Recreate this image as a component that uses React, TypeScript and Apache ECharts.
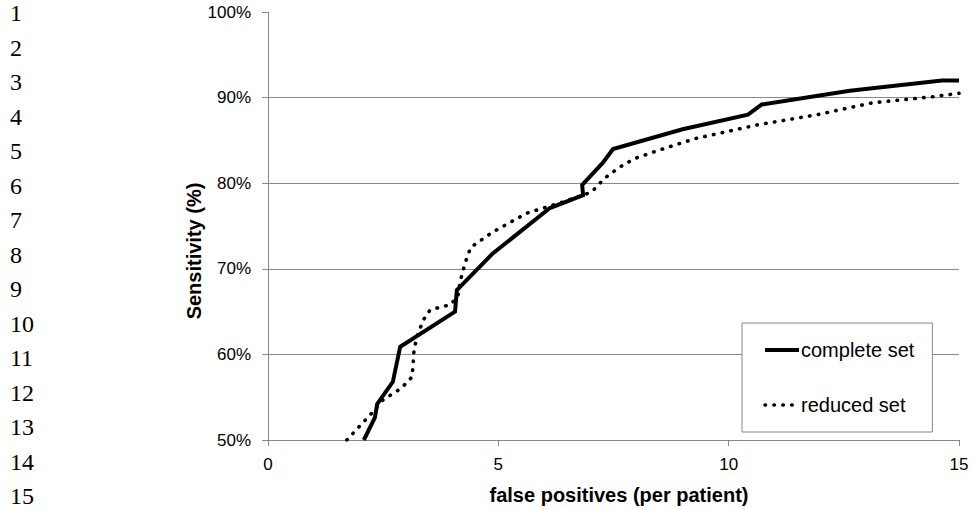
import React, { useEffect, useRef } from "react";
import * as echarts from "echarts";

// ---- data ----
const seriesNames = ["complete set", "reduced set"];

const completeX = [2.08, 2.32, 2.37, 2.71, 2.87, 4.06, 4.1, 4.88, 6.12, 6.84, 6.82, 7.27, 7.49, 9.0, 10.42, 10.72, 12.63, 14.63, 15];
const completeY = [50, 52.6, 54.2, 56.8, 60.9, 65.0, 67.5, 71.8, 77.1, 78.6, 79.8, 82.4, 84.0, 86.3, 88.0, 89.2, 90.8, 92.0, 92.0];

const reducedX = [1.71, 2.28, 2.5, 2.82, 3.02, 3.13, 3.17, 3.23, 3.37, 3.52, 3.95, 4.12, 4.17, 4.28, 4.4, 4.88, 5.62, 6.34, 6.84, 7.03, 7.31, 7.64, 7.97, 8.51, 9.27, 10.61, 11.92, 13.13, 14.43, 15];
const reducedY = [50, 53.3, 54.7, 55.8, 56.7, 57.4, 60.5, 62.0, 64.0, 65.2, 65.8, 66.7, 68.5, 70.7, 72.5, 74.3, 76.5, 77.7, 78.6, 79.0, 80.6, 81.9, 82.9, 83.9, 85.2, 86.8, 88.0, 89.4, 90.1, 90.5];

const xTitle = "false positives (per patient)";
const yTitle = "Sensitivity (%)";
const lineNumbers = ["1", "2", "3", "4", "5", "6", "7", "8", "9", "10", "11", "12", "13", "14", "15"];

const SANS = '"Liberation Sans", Arial, sans-serif';
const SERIF = '"Liberation Serif", "Times New Roman", serif';
const AXIS_GRAY = "#898989";

const solidStyle = { color: "#000", width: 4, join: "miter" as const };
const dottedStyle = { color: "#000", width: 3.6, type: [0.5, 8.4], cap: "round" as const };

export default function App() {
  const ref = useRef<HTMLDivElement>(null);

  useEffect(() => {
    if (!ref.current) return;
    const chart = echarts.init(ref.current, null, { renderer: "svg" });

    const pairs = (xs: number[], ys: number[]) => xs.map((x, i) => [x, ys[i]]);

    const lineNumberGraphics = lineNumbers.map((t, i) => ({
      type: "text",
      x: 10,
      y: 13 + 34.5 * i,
      style: {
        text: t,
        fontSize: 24,
        fontFamily: SERIF,
        fill: "#000",
        verticalAlign: "middle",
        align: "left",
      },
    }));

    chart.setOption({
      animation: false,
      backgroundColor: "#fff",
      grid: { left: 268, top: 12, width: 691, height: 428, containLabel: false },
      xAxis: {
        type: "value",
        min: 0,
        max: 15,
        interval: 5,
        axisLine: { show: true, lineStyle: { color: AXIS_GRAY, width: 1 } },
        axisTick: { show: true, length: 6, lineStyle: { color: AXIS_GRAY } },
        axisLabel: { fontSize: 17, fontFamily: SANS, color: "#000", margin: 16 },
        splitLine: { show: false },
      },
      yAxis: {
        type: "value",
        min: 50,
        max: 100,
        interval: 10,
        axisLine: { show: true, lineStyle: { color: AXIS_GRAY, width: 1 } },
        axisTick: { show: true, length: 6, lineStyle: { color: AXIS_GRAY } },
        axisLabel: {
          fontSize: 17,
          fontFamily: SANS,
          color: "#000",
          margin: 17,
          formatter: (v: number) => `${v}%`,
        },
        splitLine: {
          show: true,
          showMinLine: false,
          showMaxLine: false,
          lineStyle: { color: AXIS_GRAY, width: 1 },
        },
      },
      legend: {
        data: [
          { name: seriesNames[0], lineStyle: solidStyle },
          { name: seriesNames[1], lineStyle: dottedStyle },
        ],
        orient: "vertical",
        left: 742,
        top: 323,
        padding: [17, 18, 17, 21],
        itemGap: 35,
        itemWidth: 34,
        itemHeight: 20,
        borderColor: AXIS_GRAY,
        borderWidth: 1,
        backgroundColor: "#fff",
        itemStyle: { color: "transparent", borderColor: "transparent", borderWidth: 0 },
        textStyle: { fontSize: 20, fontFamily: SANS, color: "#000", padding: [0, 0, 0, -3] },
      },
      series: [
        {
          name: seriesNames[0],
          type: "line",
          data: pairs(completeX, completeY),
          symbol: "none",
          showSymbol: false,
          smooth: false,
          color: "#000",
          lineStyle: solidStyle,
          z: 3,
        },
        {
          name: seriesNames[1],
          type: "line",
          data: pairs(reducedX, reducedY),
          symbol: "none",
          showSymbol: false,
          smooth: false,
          color: "#000",
          lineStyle: dottedStyle,
          z: 2,
        },
      ],
      graphic: [
        ...lineNumberGraphics,
        {
          type: "text",
          x: 194,
          y: 251,
          rotation: Math.PI / 2,
          style: {
            text: yTitle,
            font: `bold 20px ${SANS}`,
            fill: "#000",
            align: "center",
            verticalAlign: "middle",
          },
        },
        {
          type: "text",
          x: 619,
          y: 495,
          style: {
            text: xTitle,
            font: `bold 20px ${SANS}`,
            fill: "#000",
            align: "center",
            verticalAlign: "middle",
          },
        },
      ],
    });

    return () => chart.dispose();
  }, []);

  return (
    <div
      ref={ref}
      style={{ position: "fixed", left: 0, top: 0, width: 973, height: 509, background: "#fff" }}
    />
  );
}
